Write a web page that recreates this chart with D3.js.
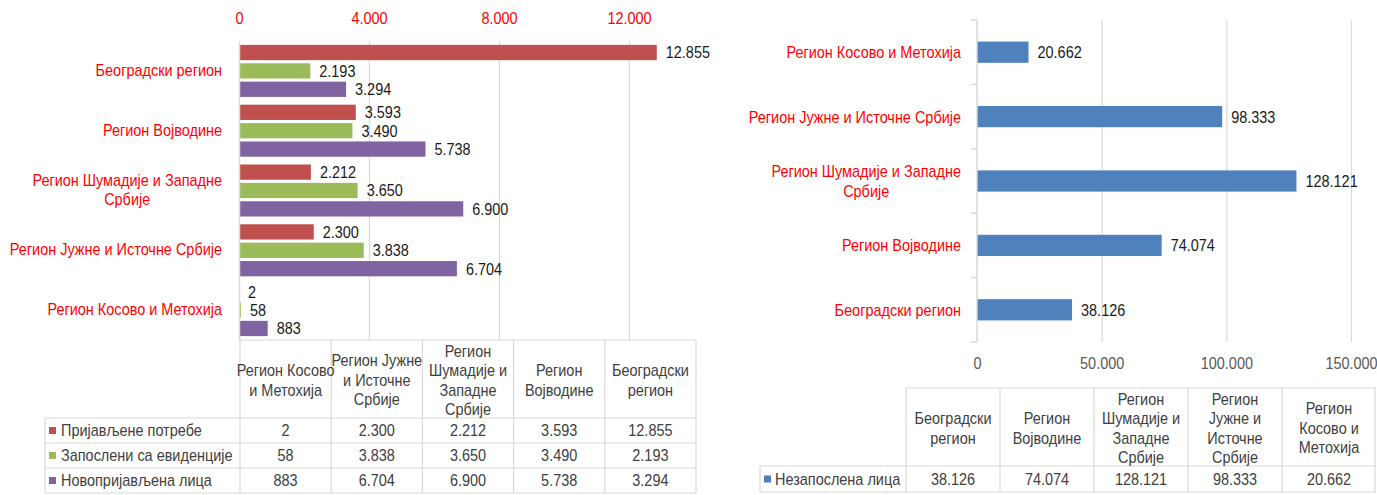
<!DOCTYPE html>
<html>
<head>
<meta charset="utf-8">
<script src="https://cdn.jsdelivr.net/npm/d3@7"></script>
<style>
body { margin: 0; background: #fff; }
svg { display: block; font-family: "Liberation Sans", Arial, sans-serif; }
</style>
</head>
<body>
<div id="chart"></div>
<script>
const width = 1377,
    height = 495

// data, regions in the order of the left chart (top to bottom)
const regions = ['Београдски регион', 'Регион Војводине', 'Регион Шумадије и Западне Србије', 'Регион Јужне и Источне Србије', 'Регион Косово и Метохија']
const seriesNames = ['Пријављене потребе', 'Запослени са евиденције', 'Новопријављена лица']
const prijavljenePotrebe = [12855, 3593, 2212, 2300, 2]
const zaposleniSaEvidencije = [2193, 3490, 3650, 3838, 58]
const novoprijavljenaLica = [3294, 5738, 6900, 6704, 883]
const nezaposlenaName = 'Незапослена лица'
const nezaposlenaLica = [38126, 74074, 128121, 98333, 20662]
const leftTicks = [0, 4000, 8000, 12000]
const rightTicks = [0, 50000, 100000, 150000]
// wrapped label lines (index = region)
const axisLabelLines = [['Београдски регион'], ['Регион Војводине'], ['Регион Шумадије и Западне', 'Србије'], ['Регион Јужне и Источне Србије'], ['Регион Косово и Метохија']]
const leftHeaderLines = [['Београдски', 'регион'], ['Регион', 'Војводине'], ['Регион', 'Шумадије и', 'Западне', 'Србије'], ['Регион Јужне', 'и Источне', 'Србије'], ['Регион Косово', 'и Метохија']]
const rightHeaderLines = [['Београдски', 'регион'], ['Регион', 'Војводине'], ['Регион', 'Шумадије и', 'Западне', 'Србије'], ['Регион', 'Јужне и', 'Источне', 'Србије'], ['Регион', 'Косово и', 'Метохија']]

const seriesValues = [prijavljenePotrebe, zaposleniSaEvidencije, novoprijavljenaLica]
const seriesColors = ['#C0504D', '#9BBB59', '#8064A2']
const blue = '#4F81BD'
const gridColor = '#d9d9d9'
const textColor = '#1a1a1a'
const tableText = '#404040'
const fontSize = 17
const narrow = 0.85   // imitate a narrow face

const fmt = d3.formatLocale({decimal: ',', thousands: '.', grouping: [3], currency: ['', '']}).format(',d')

const svg = d3.select('#chart')
    .append('svg')
    .attr('width', width)
    .attr('height', height)

function squeeze(el) {
    const w = el.getComputedTextLength()
    if (w > 0) d3.select(el).attr('textLength', w * narrow).attr('lengthAdjust', 'spacingAndGlyphs')
}

function styleGrid(g) {
    g.select('.domain').remove()
    g.selectAll('line').attr('stroke', gridColor).attr('stroke-width', 1.2)
}

// multi-line category labels, block right aligned, lines centred inside the block
function categoryLabel(g, lines, xRight, yCenter, lineH) {
    const top = yCenter - (lines.length - 1) * lineH / 2
    const texts = lines.map(function (l, k) {
        return g.append('text')
            .attr('y', top + k * lineH).attr('dy', '0.35em')
            .attr('fill', '#FF0000')
            .attr('font-size', fontSize)
            .attr('text-anchor', 'middle')
            .text(l)
    })
    let w = 0
    texts.forEach(function (t) { squeeze(t.node()); w = Math.max(w, +t.attr('textLength')) })
    texts.forEach(function (t) { t.attr('x', xRight - w / 2) })
}

function headerCell(g, lines, xc, yCenter, lineH) {
    const top = yCenter - (lines.length - 1) * lineH / 2
    lines.forEach(function (l, k) {
        g.append('text').attr('x', xc).attr('y', top + k * lineH).attr('dy', '0.35em')
            .attr('fill', tableText)
            .attr('font-size', fontSize)
            .attr('text-anchor', 'middle')
            .text(l)
    })
}

/**
 * left chart
 */
const L = {left: 239, right: 629, top: 41, bottom: 340}
const xL = d3.scaleLinear().domain([0, 12000]).range([L.left, L.right])
const yL = d3.scaleBand().domain(d3.range(regions.length)).range([L.top, L.bottom])
    .paddingInner(0.13).paddingOuter(0.065)
const yInner = d3.scaleBand().domain(d3.range(seriesValues.length)).range([0, yL.bandwidth()])
    .paddingInner(0.17)

svg.append('g')
    .attr('transform', 'translate(0,' + L.bottom + ')')
    .call(d3.axisBottom(xL).tickValues(leftTicks.slice(1)).tickSize(-(L.bottom - L.top)).tickFormat(''))
    .call(styleGrid)

svg.append('g')
    .attr('transform', 'translate(0,24)')
    .call(d3.axisTop(xL).tickValues(leftTicks).tickSize(0).tickPadding(0).tickFormat(fmt))
    .call(function (g) { g.select('.domain').remove() })
    .selectAll('text')
    .attr('fill', '#FF0000')
    .attr('font-size', fontSize)
    .attr('font-family', null)

const groupsL = svg.append('g').selectAll('g')
    .data(seriesValues)
    .enter().append('g')
    .attr('fill', function (d, s) { return seriesColors[s] })

groupsL.each(function (vals, s) {
    const g = d3.select(this)
    g.selectAll('rect').data(vals).enter().append('rect')
        .attr('x', xL(0))
        .attr('y', function (d, i) { return yL(i) + yInner(s) })
        .attr('width', function (d) { return Math.max(1, xL(d) - xL(0)) })
        .attr('height', yInner.bandwidth())
    g.selectAll('text').data(vals).enter().append('text')
        .attr('x', function (d) { return xL(d) + 9 })
        .attr('y', function (d, i) { return yL(i) + yInner(s) + yInner.bandwidth() / 2 })
        .attr('dy', '0.35em')
        .attr('fill', textColor)
        .attr('font-size', fontSize)
        .text(function (d) { return fmt(d) })
})

svg.append('g')
    .attr('transform', 'translate(' + L.left + ',0)')
    .call(d3.axisLeft(yL).tickSize(0).tickFormat(''))
    .select('.domain').attr('stroke', gridColor).attr('stroke-width', 1.5)

const labL = svg.append('g')
regions.forEach(function (r, i) {
    categoryLabel(labL, axisLabelLines[i], 222, yL(i) + yL.bandwidth() / 2 - 1, 19.5)
})

// left data table, columns in reversed order
const leftOrder = [4, 3, 2, 1, 0]
const colL = d3.scaleBand().domain(leftOrder).range([240, 696])
const rowTopL = 418, rowHL = 25, legendLeftL = 45
const tabL = svg.append('g')
    .attr('stroke', gridColor).attr('stroke-width', 1.2)
tabL.append('line').attr('x1', colL.range()[0]).attr('x2', colL.range()[1]).attr('y1', L.bottom).attr('y2', L.bottom)
d3.range(seriesValues.length + 1).forEach(function (k) {
    tabL.append('line').attr('x1', legendLeftL).attr('x2', colL.range()[1])
        .attr('y1', rowTopL + k * rowHL).attr('y2', rowTopL + k * rowHL)
})
leftOrder.concat(['end']).forEach(function (c) {
    const x = c === 'end' ? colL.range()[1] : colL(c)
    tabL.append('line').attr('x1', x).attr('x2', x).attr('y1', L.bottom).attr('y2', rowTopL + seriesValues.length * rowHL)
})
tabL.append('line').attr('x1', legendLeftL).attr('x2', legendLeftL).attr('y1', rowTopL).attr('y2', rowTopL + seriesValues.length * rowHL)

const headL = svg.append('g')
leftOrder.forEach(function (c) {
    headerCell(headL, leftHeaderLines[c], colL(c) + colL.bandwidth() / 2, (L.bottom + rowTopL) / 2 + 1, 19.5)
})
seriesValues.forEach(function (vals, s) {
    const yc = rowTopL + s * rowHL + rowHL / 2
    svg.append('rect').attr('x', legendLeftL + 4).attr('y', yc - 3.5).attr('width', 7).attr('height', 7)
        .attr('fill', seriesColors[s])
    svg.append('text').attr('x', legendLeftL + 16).attr('y', yc).attr('dy', '0.35em')
        .attr('fill', tableText).attr('font-size', fontSize).text(seriesNames[s])
    leftOrder.forEach(function (c) {
        svg.append('text').attr('x', colL(c) + colL.bandwidth() / 2).attr('y', yc).attr('dy', '0.35em')
            .attr('text-anchor', 'middle').attr('fill', tableText).attr('font-size', fontSize)
            .text(fmt(vals[c]))
    })
})

/**
 * right chart
 */
const R = {left: 977, right: 1351, top: 20, bottom: 342}
const rightOrder = [4, 3, 2, 1, 0]
const xR = d3.scaleLinear().domain([0, 150000]).range([R.left, R.right])
const yR = d3.scaleBand().domain(rightOrder).range([R.top, R.bottom])
    .paddingInner(0.67).paddingOuter(0.335)
const bandR = d3.scaleBand().domain(rightOrder).range([R.top, R.bottom])

svg.append('g')
    .attr('transform', 'translate(0,' + R.bottom + ')')
    .call(d3.axisBottom(xR).tickValues(rightTicks.slice(1)).tickSize(-(R.bottom - R.top)).tickFormat(''))
    .call(styleGrid)

svg.append('g')
    .attr('transform', 'translate(0,' + R.bottom + ')')
    .call(d3.axisBottom(xR).tickValues(rightTicks).tickSize(0).tickPadding(15).tickFormat(fmt))
    .call(function (g) { g.select('.domain').remove() })
    .selectAll('text')
    .attr('fill', '#595959')
    .attr('font-size', fontSize)
    .attr('font-family', null)

svg.append('g').attr('fill', blue)
    .selectAll('rect').data(rightOrder).enter().append('rect')
    .attr('x', xR(0))
    .attr('y', function (i) { return yR(i) })
    .attr('width', function (i) { return xR(nezaposlenaLica[i]) - xR(0) })
    .attr('height', yR.bandwidth())

svg.append('g').selectAll('text').data(rightOrder).enter().append('text')
    .attr('x', function (i) { return xR(nezaposlenaLica[i]) + 9 })
    .attr('y', function (i) { return yR(i) + yR.bandwidth() / 2 })
    .attr('dy', '0.35em')
    .attr('fill', textColor)
    .attr('font-size', fontSize)
    .text(function (i) { return fmt(nezaposlenaLica[i]) })

// category axis with boundary ticks
const axR = svg.append('g').attr('stroke', gridColor).attr('stroke-width', 1.5)
axR.append('line').attr('x1', R.left).attr('x2', R.left).attr('y1', R.top).attr('y2', R.bottom)
rightOrder.forEach(function (i) {
    axR.append('line').attr('x1', R.left - 6).attr('x2', R.left).attr('y1', bandR(i)).attr('y2', bandR(i))
})
axR.append('line').attr('x1', R.left - 6).attr('x2', R.left).attr('y1', R.bottom).attr('y2', R.bottom)

const labR = svg.append('g')
rightOrder.forEach(function (i) {
    categoryLabel(labR, axisLabelLines[i], 961, bandR(i) + bandR.bandwidth() / 2, 19.5)
})

// right data table
const tableOrderR = [0, 1, 2, 3, 4]
const colR = d3.scaleBand().domain(tableOrderR).range([906, 1376])
const headTopR = 388, rowTopR = 466, rowHR = 26, legendLeftR = 760
const tabR = svg.append('g').attr('stroke', gridColor).attr('stroke-width', 1.2)
tabR.append('line').attr('x1', colR.range()[0]).attr('x2', colR.range()[1]).attr('y1', headTopR).attr('y2', headTopR)
tabR.append('line').attr('x1', legendLeftR).attr('x2', colR.range()[1]).attr('y1', rowTopR).attr('y2', rowTopR)
tabR.append('line').attr('x1', legendLeftR).attr('x2', colR.range()[1]).attr('y1', rowTopR + rowHR).attr('y2', rowTopR + rowHR)
tableOrderR.concat(['end']).forEach(function (c) {
    const x = c === 'end' ? colR.range()[1] - 1 : colR(c)
    tabR.append('line').attr('x1', x).attr('x2', x).attr('y1', headTopR).attr('y2', rowTopR + rowHR)
})
tabR.append('line').attr('x1', legendLeftR).attr('x2', legendLeftR).attr('y1', rowTopR).attr('y2', rowTopR + rowHR)

const headR = svg.append('g')
tableOrderR.forEach(function (c) {
    headerCell(headR, rightHeaderLines[c], colR(c) + colR.bandwidth() / 2, (headTopR + rowTopR) / 2 + 1, 19.5)
})
const ycR = rowTopR + rowHR / 2
svg.append('rect').attr('x', legendLeftR + 4).attr('y', ycR - 3.5).attr('width', 7).attr('height', 7).attr('fill', blue)
svg.append('text').attr('x', legendLeftR + 15).attr('y', ycR).attr('dy', '0.35em')
    .attr('fill', tableText).attr('font-size', fontSize).text(nezaposlenaName)
tableOrderR.forEach(function (c) {
    svg.append('text').attr('x', colR(c) + colR.bandwidth() / 2).attr('y', ycR).attr('dy', '0.35em')
        .attr('text-anchor', 'middle').attr('fill', tableText).attr('font-size', fontSize)
        .text(fmt(nezaposlenaLica[c]))
})

// narrow every text that is not yet narrowed
svg.selectAll('text').each(function () {
    if (!this.hasAttribute('textLength')) squeeze(this)
})
</script>
</body>
</html>
